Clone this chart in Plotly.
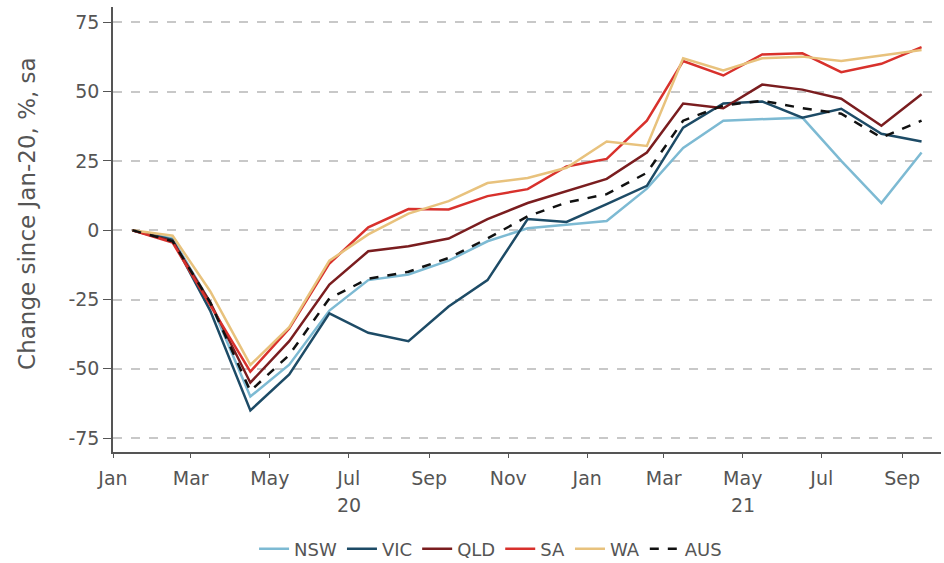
import plotly.graph_objects as go

months = ["2020-01-16", "2020-02-16", "2020-03-16", "2020-04-16", "2020-05-16", "2020-06-16",
          "2020-07-16", "2020-08-16", "2020-09-16", "2020-10-16", "2020-11-16", "2020-12-16",
          "2021-01-16", "2021-02-16", "2021-03-16", "2021-04-16", "2021-05-16", "2021-06-16",
          "2021-07-16", "2021-08-16", "2021-09-16"]

nsw = [0, -3, -26, -60, -48.5, -29, -18, -16, -11, -4, 0.7, 2, 3.3, 15, 29.7, 39.5, 40, 40.6, 25, 9.8, 28]
vic = [0, -3.5, -29, -65, -52, -30, -37, -40, -27.5, -18, 4, 3, 9.4, 16, 37, 45.7, 46.4, 40.6, 43.8, 34.8, 32]
qld = [0, -4, -26, -55, -40, -19.6, -7.6, -5.8, -3, 4, 9.8, 14, 18.5, 28, 45.7, 44, 52.5, 50.7, 47.4, 37.7, 49]
sa = [0, -4.5, -27, -51, -35.5, -12, 1, 7.6, 7.5, 12.3, 14.8, 23, 25.7, 39.5, 61, 55.8, 63.4, 63.8, 57, 60, 66]
wa = [0, -2, -22, -48.6, -35, -11, -1.5, 6, 10.5, 17, 18.8, 22.5, 32, 30.4, 62, 57.6, 62, 62.6, 61, 63, 65]
aus = [0, -4, -26, -58, -45, -24.6, -17.5, -15, -10, -3, 5, 10, 13, 20.7, 39.5, 45, 46.7, 44, 42, 33.4, 39.5]

tick_vals = ["2020-01-01", "2020-03-01", "2020-05-01", "2020-07-01", "2020-09-01", "2020-11-01",
             "2021-01-01", "2021-03-01", "2021-05-01", "2021-07-01", "2021-09-01"]
tick_text = ["Jan", "Mar", "May", "Jul", "Sep", "Nov", "Jan", "Mar", "May", "Jul", "Sep"]
year_pos = ["2020-07-01", "2021-05-01"]
year_text = ["20", "21"]
y_ticks = [-75, -50, -25, 0, 25, 50, 75]
y_tick_text = ["-75", "-50", "-25", "0", "25", "50", "75"]

series = [
    ("NSW", nsw, "#7dbad3", "solid"),
    ("VIC", vic, "#1d4b66", "solid"),
    ("QLD", qld, "#7a1d1f", "solid"),
    ("SA", sa, "#d8312c", "solid"),
    ("WA", wa, "#e8c27d", "solid"),
    ("AUS", aus, "#111111", "dash"),
]

fig = go.Figure()
for name, vals, color, dash in series:
    fig.add_trace(go.Scatter(x=months, y=vals, name=name, mode="lines",
                             line=dict(color=color, width=2.5, dash=dash)))

font_family = "DejaVu Sans, Verdana, sans-serif"
fig.update_layout(
    width=944, height=563,
    margin=dict(l=113, r=3, t=7, b=111, autoexpand=False),
    paper_bgcolor="white", plot_bgcolor="white",
    font=dict(family=font_family, size=19, color="#555555"),
    showlegend=True,
    legend=dict(orientation="h", x=0.456, xanchor="center", y=-0.218, yanchor="middle",
                font=dict(size=18, color="#555555"), itemwidth=30),
)
for xp, txt in zip(year_pos, year_text):
    fig.add_annotation(x=xp, xref="x", y=-0.119, yref="paper", text=txt, showarrow=False,
                       xanchor="center", yanchor="middle", font=dict(size=19, color="#555555"))
fig.add_annotation(x=-0.104, xref="paper", y=0.537, yref="paper", text="Change since Jan-20, %, sa",
                   textangle=-90, showarrow=False, xanchor="center", yanchor="middle",
                   font=dict(size=23, color="#555555"))
fig.update_xaxes(
    type="date", range=["2020-01-01", "2021-10-01"], automargin=False,
    tickmode="array", tickvals=tick_vals, ticktext=tick_text, ticklabelstandoff=4,
    showgrid=False, showline=True, linecolor="#555555", linewidth=1.5,
    ticks="outside", ticklen=4, tickcolor="#555555", zeroline=False,
)
fig.update_yaxes(
    range=[-80, 80.5], tickmode="array", tickvals=y_ticks, ticktext=y_tick_text, automargin=False,
    showgrid=True, gridcolor="#c8c8c8", griddash="dash", gridwidth=2,
    showline=True, linecolor="#555555", linewidth=1.5,
    ticks="outside", ticklen=8, tickcolor="#555555", zeroline=False,
)
fig.write_html("out.html", post_script="document.body.style.margin='0';",
               config={"displayModeBar": False})
